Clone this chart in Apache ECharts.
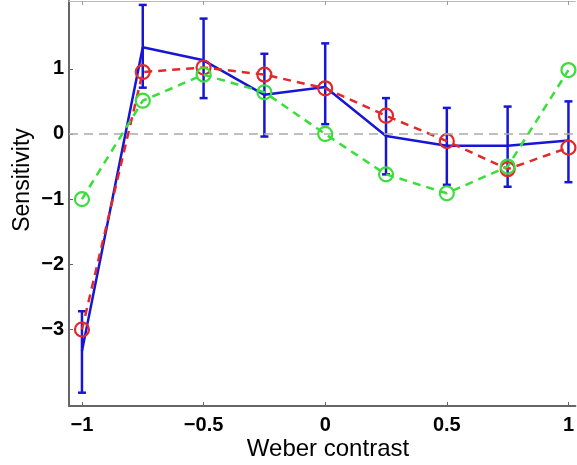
<!DOCTYPE html>
<html>
<head>
<meta charset="utf-8">
<script src="https://cdn.jsdelivr.net/npm/echarts@6/dist/echarts.min.js"></script>
<style>
  html, body { margin: 0; padding: 0; background: #fff; }
  #chart { width: 577px; height: 465px; }
</style>
</head>
<body>
<div id="chart"></div>
<script>
  // values
  const contrast = [-1, -0.75, -0.5, -0.25, 0, 0.25, 0.5, 0.75, 1];
  const blueMean = [-3.33, 1.33, 1.13, 0.6, 0.72, -0.03, -0.18, -0.18, -0.1];
  const blueLow = [-3.97, 0.71, 0.55, -0.04, 0.15, -0.62, -0.78, -0.81, -0.74];
  const blueHigh = [-2.72, 1.98, 1.77, 1.23, 1.39, 0.55, 0.4, 0.42, 0.5];
  const redVals = [-3.0, 0.95, 1.02, 0.91, 0.7, 0.28, -0.11, -0.54, -0.21];
  const greenVals = [-1.0, 0.51, 0.91, 0.64, 0.0, -0.62, -0.91, -0.5, 0.98];
  const xTicks = [-1, -0.5, 0, 0.5, 1];
  const yTicks = [-3, -2, -1, 0, 1];

  const fmt = v => (v < 0 ? '\u2212' + Math.abs(v) : String(v));
  const zip = arr => contrast.map((x, i) => [x, arr[i]]);

  const chart = echarts.init(document.getElementById('chart'));
  const labelFont = {color: '#000', fontFamily: 'Liberation Sans', fontWeight: 'bold', fontSize: 20};
  const titleFont = {fontSize: 24, fontFamily: 'Liberation Sans', fill: '#000', align: 'center', verticalAlign: 'middle'};

  chart.setOption({
    animation: false,
    grid: {left: 69, right: 0, top: 1, bottom: 59},
    xAxis: [{
      type: 'value',
      min: -1.0533,
      max: 1.0287,
      axisLine: {show: true, onZero: false, lineStyle: {color: '#666', width: 2}},
      axisTick: {show: true, inside: true, length: 4, customValues: xTicks, lineStyle: {color: '#666'}},
      axisLabel: Object.assign({customValues: xTicks, margin: 9, formatter: fmt}, labelFont),
      splitLine: {show: false}
    }, {
      type: 'value',
      position: 'top',
      min: -1.0533,
      max: 1.0287,
      axisLine: {show: true, onZero: false, lineStyle: {color: '#bbb', width: 1}},
      axisTick: {show: true, inside: true, length: 4, customValues: xTicks, lineStyle: {color: '#999'}},
      axisLabel: {show: false},
      splitLine: {show: false}
    }],
    yAxis: {
      type: 'value',
      min: -4.174,
      max: 2.04,
      axisLine: {show: true, onZero: false, lineStyle: {color: '#666', width: 2}},
      axisTick: {show: true, inside: true, length: 4, customValues: yTicks, lineStyle: {color: '#666'}},
      axisLabel: Object.assign({customValues: yTicks, margin: 5, formatter: fmt}, labelFont),
      splitLine: {show: false}
    },
    graphic: [
      {type: 'text', x: 328, y: 449, style: Object.assign({text: 'Weber contrast'}, titleFont)},
      {type: 'text', x: 23, y: 180, rotation: Math.PI / 2,
       style: Object.assign({text: 'Sensitivity'}, titleFont, {fontSize: 23})}
    ],
    series: [
      {
        type: 'line',
        data: [],
        markLine: {
          silent: true,
          symbol: 'none',
          label: {show: false},
          lineStyle: {color: '#aaa', type: [9, 6], width: 1.5},
          data: [{yAxis: 0}]
        }
      },
      {
        type: 'line',
        data: zip(blueMean),
        showSymbol: false,
        lineStyle: {color: '#1616d4', width: 2.5},
        z: 3
      },
      {
        type: 'custom',
        data: contrast.map((x, i) => [x, blueLow[i], blueHigh[i]]),
        renderItem(params, api) {
          const lo = api.coord([api.value(0), api.value(1)]);
          const hi = api.coord([api.value(0), api.value(2)]);
          const w = 4;
          const style = {stroke: '#1616d4', lineWidth: 2.5, fill: null};
          return {
            type: 'group',
            children: [
              {type: 'line', shape: {x1: lo[0], y1: lo[1], x2: hi[0], y2: hi[1]}, style},
              {type: 'line', shape: {x1: lo[0] - w, y1: lo[1], x2: lo[0] + w, y2: lo[1]}, style},
              {type: 'line', shape: {x1: hi[0] - w, y1: hi[1], x2: hi[0] + w, y2: hi[1]}, style}
            ]
          };
        },
        encode: {x: 0, y: [1, 2]},
        z: 3
      },
      {
        type: 'line',
        data: zip(redVals),
        symbol: 'circle',
        symbolSize: 14,
        lineStyle: {color: '#e3282b', width: 2.5, type: [8, 6]},
        itemStyle: {color: 'rgba(0,0,0,0)', borderColor: '#e3282b', borderWidth: 2.2},
        z: 4
      },
      {
        type: 'line',
        data: zip(greenVals),
        symbol: 'circle',
        symbolSize: 14,
        lineStyle: {color: '#3ade3a', width: 2.5, type: [8, 6]},
        itemStyle: {color: 'rgba(0,0,0,0)', borderColor: '#3ade3a', borderWidth: 2.2},
        z: 5
      }
    ]
  });
</script>
</body>
</html>
